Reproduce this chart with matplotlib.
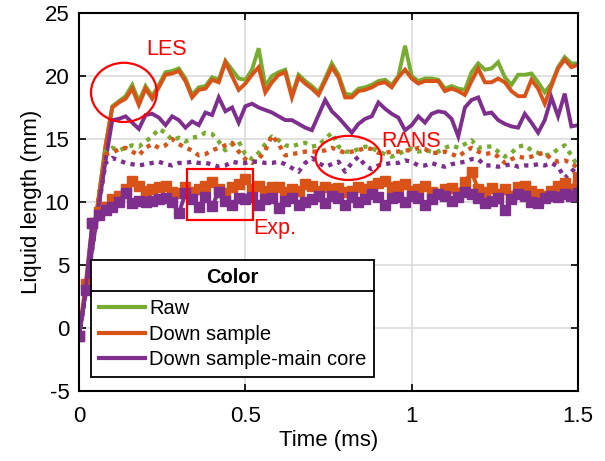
import matplotlib
matplotlib.use("Agg")
import matplotlib.pyplot as plt
from matplotlib.lines import Line2D
from matplotlib.patches import Ellipse, Rectangle
import numpy as np

plt.rcParams["font.family"] = ["Liberation Sans", "DejaVu Sans"]
plt.rcParams["axes.unicode_minus"] = False

# sample times (ms), 0.02 ms spacing
time_ms = np.linspace(0.0, 1.5, 76)

# LES liquid length (mm)
les_raw = [
    -0.7, 3.0, 6.8, 10.5, 14.5, 17.6, 18.0, 18.4, 19.3, 18.0,
    19.2, 18.4, 19.3, 20.3, 20.4, 20.6, 19.8, 18.5, 19.1, 19.2,
    19.9, 19.7, 21.2, 20.5, 19.8, 19.7, 20.5, 22.2, 19.2, 20.0,
    20.3, 20.5, 18.5, 20.1, 19.6, 19.2, 18.7, 19.8, 21.0, 20.1,
    18.6, 18.5, 19.0, 19.1, 19.3, 19.6, 19.7, 19.3, 20.0, 22.4,
    20.0, 19.6, 19.8, 19.8, 19.7, 19.0, 19.2, 19.0, 18.9, 20.3,
    21.0, 20.5, 20.6, 21.1, 19.9, 19.3, 20.1, 20.1, 20.2, 19.5,
    18.7, 19.4, 20.7, 21.5, 21.0, 21.0,
]
les_down = [
    -0.7, 3.0, 6.8, 10.5, 14.5, 17.5, 17.9, 18.2, 19.0, 17.7,
    19.0, 18.2, 19.1, 20.1, 20.2, 20.4, 19.6, 18.3, 18.9, 19.0,
    19.7, 19.5, 21.1, 20.0, 18.9, 19.4, 20.1, 20.7, 18.7, 19.5,
    20.1, 20.3, 18.3, 19.9, 19.4, 19.0, 18.5, 19.6, 20.7, 19.9,
    18.3, 18.3, 18.8, 18.9, 19.1, 19.4, 19.5, 19.1, 19.9, 20.5,
    19.8, 19.4, 19.6, 19.6, 19.6, 18.8, 19.0, 18.8, 18.5, 19.6,
    20.6, 19.5, 19.5, 19.8, 19.5, 18.8, 18.4, 18.4, 19.7, 19.0,
    17.8, 19.2, 20.6, 21.3, 20.7, 20.9,
]
les_core = [
    -0.7, 2.8, 6.3, 9.8, 13.3, 16.5, 16.6, 16.8, 16.3, 15.8,
    16.9, 17.0, 16.7, 16.1, 16.8, 16.5, 15.9, 16.4, 16.1, 17.1,
    16.9, 18.3, 17.2, 17.5, 16.3, 17.6, 17.8, 17.5, 17.3, 17.1,
    16.8, 16.5, 16.5, 16.2, 15.9, 15.7, 16.9, 18.1, 17.2, 16.7,
    16.1, 15.5, 16.2, 16.6, 16.8, 17.9, 17.4, 17.0, 16.7, 15.7,
    16.1, 16.8, 16.3, 17.0, 17.2, 17.1, 16.6, 15.2, 17.5, 18.1,
    18.3, 17.0, 17.1, 16.5, 16.2, 16.0, 15.9, 17.0, 16.3, 15.5,
    16.5, 18.3, 16.8, 18.6, 16.0, 16.1,
]

# RANS liquid length (mm)
rans_raw = [
    -0.7, 3.0, 6.8, 10.5, 14.0, 14.3, 14.1, 14.3, 14.5, 14.4,
    14.8, 15.2, 15.8, 15.5, 14.9, 15.1, 14.8, 15.1, 15.2, 15.5,
    15.4, 14.8, 14.1, 14.6, 14.8, 13.8, 13.4, 13.9, 14.6, 15.2,
    14.9, 14.5, 14.4, 14.6, 14.7, 14.4, 14.5, 15.0, 15.5, 14.4,
    14.0, 14.0, 14.2, 14.4, 14.3, 14.0, 13.8, 13.6, 13.8, 14.1,
    14.2, 14.0, 14.1, 14.0, 14.0, 14.3, 14.5, 14.3, 14.6, 14.9,
    14.3, 14.4, 14.4, 14.0, 13.6, 13.9, 14.4, 14.5, 14.1, 13.9,
    13.7, 13.8, 14.2, 14.5, 13.7, 12.8,
]
rans_down = [
    -0.7, 3.0, 6.8, 10.5, 13.8, 13.9, 14.2, 14.3, 14.0, 13.7,
    14.3, 14.6, 14.3, 14.5, 15.0, 14.6, 14.3, 14.1, 13.7, 13.8,
    14.1, 14.3, 14.5, 14.7, 14.0, 13.4, 13.1, 13.4, 14.1, 15.3,
    14.6, 13.7, 13.8, 13.9, 14.0, 14.0, 14.0, 14.1, 14.3, 14.1,
    13.9, 14.0, 14.1, 14.3, 14.2, 13.9, 13.9, 14.0, 14.0, 14.1,
    14.1, 14.3, 14.2, 13.9, 13.9, 14.0, 13.8, 13.6, 14.0, 14.3,
    14.0, 13.8, 13.9, 13.6, 13.1, 13.4, 13.6, 13.5, 13.6, 13.8,
    13.9, 13.4, 13.2, 13.3, 13.1, 12.7,
]
rans_core = [
    -0.7, 2.8, 6.3, 9.8, 13.1, 13.5, 13.3, 13.1, 13.0, 12.9,
    13.0, 13.1, 13.2, 13.0, 12.9, 13.1, 13.1, 13.2, 13.1, 13.1,
    13.0, 12.8, 12.9, 13.2, 13.1, 13.1, 13.2, 13.2, 13.1, 13.1,
    13.2, 13.0, 12.7, 12.4, 13.1, 13.5, 13.1, 12.8, 13.0, 13.2,
    12.4, 13.1, 13.6, 12.9, 12.6, 12.9, 13.0, 13.1, 13.1, 13.3,
    13.2, 12.9, 12.9, 13.1, 12.9, 12.8, 13.0, 13.1, 13.2, 13.4,
    13.4, 12.9, 12.9, 12.8, 12.9, 13.0, 12.8, 12.9, 12.9, 13.0,
    12.9, 13.1, 12.8, 11.9, 12.4, 12.9,
]

# Experimental liquid length (mm)
exp_down = [
    -0.6, 3.5, 8.3, 9.2, 9.6, 10.2, 10.5, 11.0, 11.7, 11.3,
    10.9, 11.0, 11.2, 11.3, 10.8, 10.7, 11.2, 10.8, 11.0, 11.3,
    11.6, 11.0, 10.7, 11.2, 11.4, 11.8, 11.0, 11.3, 10.9, 11.2,
    11.2, 10.8, 11.0, 10.9, 11.4, 11.3, 10.9, 11.2, 11.0, 11.1,
    10.8, 10.9, 11.2, 11.0, 11.3, 11.5, 11.7, 11.2, 11.3, 11.4,
    10.9, 11.0, 11.3, 10.8, 10.6, 11.0, 11.1, 10.7, 11.6, 12.4,
    11.0, 10.8, 11.1, 10.6, 11.0, 10.5, 11.2, 11.3, 10.9, 10.6,
    10.5, 10.9, 11.3, 11.5, 11.0, 12.0,
]
exp_core = [
    -0.6, 3.0, 8.3, 9.0, 9.4, 9.6, 10.0, 10.7, 9.9, 10.1,
    10.0, 10.1, 10.2, 10.3, 10.0, 9.1, 10.7, 10.2, 9.6, 10.4,
    9.7, 10.8, 10.1, 9.8, 10.3, 10.2, 10.4, 9.8, 10.2, 10.3,
    9.5, 10.1, 10.3, 9.8, 10.0, 10.2, 10.5, 9.9, 10.5, 10.3,
    9.8, 10.4, 10.0, 10.2, 10.6, 10.4, 9.8, 10.3, 10.4, 10.0,
    10.5, 10.3, 9.8, 10.2, 10.6, 10.5, 10.1, 10.4, 10.8, 10.6,
    10.3, 9.9, 10.1, 10.3, 9.4, 10.2, 10.6, 10.5, 10.0, 9.9,
    10.3, 10.5, 10.4, 10.6, 10.5, 10.7,
]

legend_labels = ["Raw", "Down sample", "Down sample-main core"]
colors = ["#77AC30", "#D95319", "#7E2F8E"]
green, orange, purple = colors

fig = plt.figure(figsize=(6.05, 4.61), dpi=100)
ax = fig.add_axes([0.1306, 0.1518, 0.8248, 0.82])

lw = 2.8
dots = (0, (1, 1.25))

# LES (solid)
ax.plot(time_ms, les_raw, color=green, lw=lw, solid_joinstyle="miter")
ax.plot(time_ms, les_down, color=orange, lw=lw, solid_joinstyle="miter")
ax.plot(time_ms, les_core, color=purple, lw=lw, solid_joinstyle="miter")

# RANS (dotted)
ax.plot(time_ms, rans_raw, color=green, lw=3.1, ls=dots, dash_capstyle="butt")
ax.plot(time_ms, rans_down, color=orange, lw=3.1, ls=dots, dash_capstyle="butt")
ax.plot(time_ms, rans_core, color=purple, lw=3.1, ls=dots, dash_capstyle="butt")

# Experiment (square markers)
ax.plot(time_ms, exp_down, color=orange, lw=lw, marker="s", ms=6.8)
ax.plot(time_ms, exp_core, color=purple, lw=lw, marker="s", ms=6.8)

# annotations
red = "#FF0000"
ax.add_patch(Ellipse((0.135, 18.7), 0.198, 4.7, fill=False, ec=red, lw=1.6, zorder=5))
ax.text(0.262, 22.1, "LES", color=red, fontsize=15.5, ha="center", va="center")
ax.add_patch(Ellipse((0.81, 13.5), 0.198, 3.5, fill=False, ec=red, lw=1.6, zorder=5))
ax.text(0.91, 14.8, "RANS", color=red, fontsize=15.5, ha="left", va="center")
ax.add_patch(Rectangle((0.325, 8.57), 0.198, 4.03, fill=False, ec=red, lw=1.6, zorder=5))
ax.text(0.523, 7.9, "Exp.", color=red, fontsize=15.5, ha="left", va="center")

ax.set_xlim(0, 1.5)
ax.set_ylim(-5, 25)
ax.set_xticks([0, 0.5, 1, 1.5])
ax.set_xticklabels(["0", "0.5", "1", "1.5"])
ax.set_yticks(np.arange(-5, 26, 5))
ax.grid(True, color="#d9d9d9", lw=1.1)
ax.set_axisbelow(True)
ax.tick_params(direction="in", length=5, width=1.2, top=True, right=True,
               labelsize=16)
ax.tick_params(axis="x", pad=11)
ax.tick_params(axis="y", pad=7)
for sp in ax.spines.values():
    sp.set_linewidth(1.5)
ax.set_xlabel("Time (ms)", fontsize=16, labelpad=2)
ax.set_ylabel("Liquid length (mm)", fontsize=16, labelpad=2)

handles = [Line2D([], [], color=c, lw=3) for c in colors]
leg = ax.legend(handles, legend_labels, title="Color", loc="lower left",
                bbox_to_anchor=(0.024, 0.037), borderaxespad=0,
                fontsize=14.5, title_fontproperties={"weight": "bold", "size": 14.5},
                fancybox=False, framealpha=1, edgecolor="black",
                handlelength=2.3, handletextpad=0.2, borderpad=0.38,
                labelspacing=0.33)
leg.get_frame().set_linewidth(1.3)
leg._legend_box.sep = 9

# rule under the legend title
fig.canvas.draw()
renderer = fig.canvas.get_renderer()
frame_bb = leg.get_frame().get_window_extent(renderer)
title_bb = leg.get_title().get_window_extent(renderer)
y_rule = title_bb.y0 - 4
inv = fig.transFigure.inverted()
x0, y0 = inv.transform((frame_bb.x0, y_rule))
x1, _ = inv.transform((frame_bb.x1, y_rule))
fig.add_artist(Line2D([x0, x1], [y0, y0], transform=fig.transFigure,
                      color="black", lw=1.3, zorder=10))

fig.savefig("out.png", dpi=100)
